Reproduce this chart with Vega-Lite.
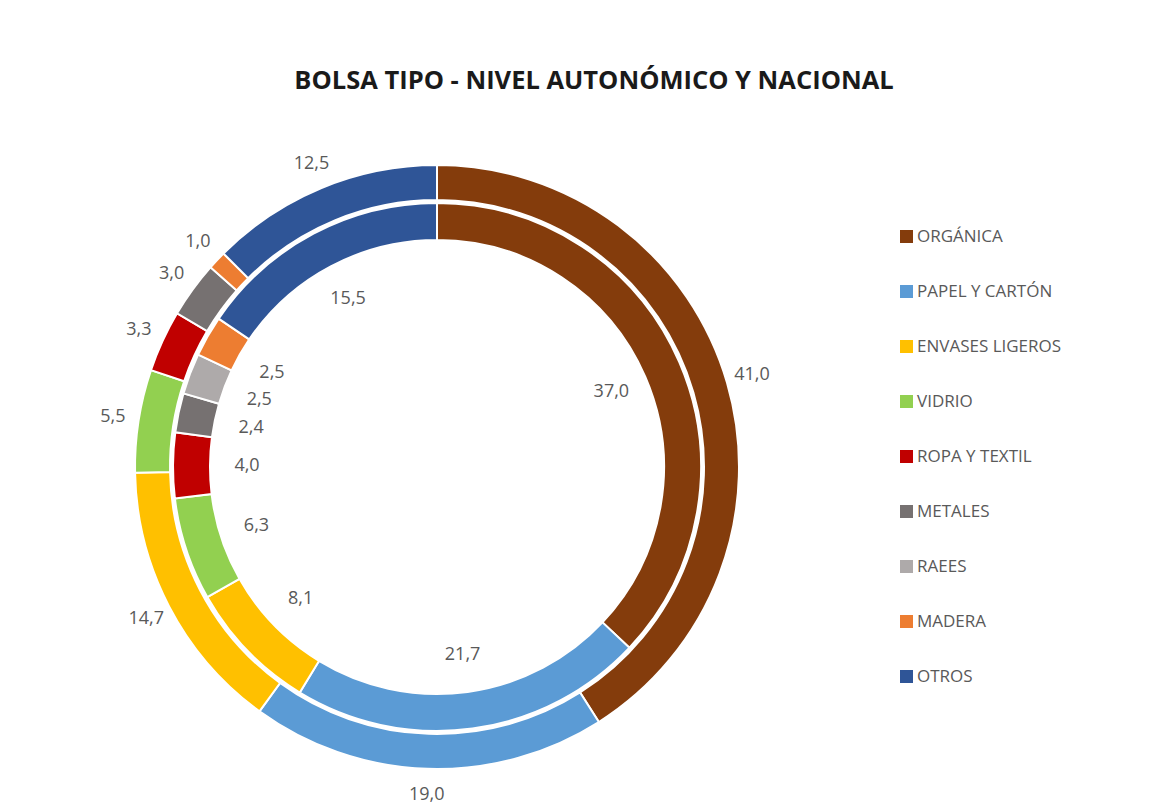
{
  "$schema": "https://vega.github.io/schema/vega-lite/v6.json",
  "autosize": {"type": "none"},
  "width": 604,
  "height": 604,
  "padding": {"left": 135, "top": 165, "right": 415, "bottom": 39},
  "background": "white",
  "config": {
    "view": {"stroke": null},
    "locale": {"number": {"decimal": ",", "thousands": ".", "grouping": [3], "currency": ["", " €"]}}
  },
  "title": {
    "text": "BOLSA TIPO - NIVEL AUTONÓMICO Y NACIONAL",
    "font": "Open Sans",
    "fontSize": 25.5,
    "fontWeight": "bold",
    "color": "#1a1a1a",
    "anchor": "middle",
    "dx": 157,
    "offset": 60
  },
  "datasets": {
    "exterior": [
      {"categoria": "ORGÁNICA", "orden": 1, "valor": 41.0},
      {"categoria": "PAPEL Y CARTÓN", "orden": 2, "valor": 19.0},
      {"categoria": "ENVASES LIGEROS", "orden": 3, "valor": 14.7},
      {"categoria": "VIDRIO", "orden": 4, "valor": 5.5},
      {"categoria": "ROPA Y TEXTIL", "orden": 5, "valor": 3.3},
      {"categoria": "METALES", "orden": 6, "valor": 3.0},
      {"categoria": "MADERA", "orden": 8, "valor": 1.0},
      {"categoria": "OTROS", "orden": 9, "valor": 12.5}
    ],
    "interior": [
      {"categoria": "ORGÁNICA", "orden": 1, "valor": 37.0},
      {"categoria": "PAPEL Y CARTÓN", "orden": 2, "valor": 21.7},
      {"categoria": "ENVASES LIGEROS", "orden": 3, "valor": 8.1},
      {"categoria": "VIDRIO", "orden": 4, "valor": 6.3},
      {"categoria": "ROPA Y TEXTIL", "orden": 5, "valor": 4.0},
      {"categoria": "METALES", "orden": 6, "valor": 2.4},
      {"categoria": "RAEES", "orden": 7, "valor": 2.5},
      {"categoria": "MADERA", "orden": 8, "valor": 2.5},
      {"categoria": "OTROS", "orden": 9, "valor": 15.5}
    ]
  },
  "encoding": {
    "theta": {"field": "valor", "type": "quantitative", "stack": true},
    "order": {"field": "orden", "type": "quantitative"},
    "color": {
      "field": "categoria",
      "type": "nominal",
      "scale": {
        "domain": ["ORGÁNICA", "PAPEL Y CARTÓN", "ENVASES LIGEROS", "VIDRIO", "ROPA Y TEXTIL", "METALES", "RAEES", "MADERA", "OTROS"],
        "range": ["#843c0c", "#5b9bd5", "#ffc000", "#92d050", "#c00000", "#767171", "#aeaaaa", "#ed7d31", "#2f5597"]
      },
      "legend": {
        "title": null,
        "orient": "none",
        "legendX": 763,
        "legendY": 63,
        "padding": 0,
        "symbolType": "square",
        "symbolSize": 169,
        "symbolStrokeWidth": 0,
        "labelFont": "Open Sans",
        "labelFontSize": 17,
        "labelColor": "#595959",
        "labelOffset": 2,
        "rowPadding": 37
      }
    }
  },
  "layer": [
    {
      "data": {"name": "exterior"},
      "mark": {"type": "arc", "radius": 302, "radius2": 267, "stroke": "white", "strokeWidth": 2}
    },
    {
      "data": {"name": "interior"},
      "mark": {"type": "arc", "radius": 264, "radius2": 227, "stroke": "white", "strokeWidth": 2}
    },
    {
      "data": {"name": "exterior"},
      "mark": {"type": "text", "radius": 328, "font": "Open Sans", "fontSize": 18, "fill": "#595959"},
      "encoding": {
        "text": {"field": "valor", "type": "quantitative", "format": ".1f"},
        "color": {"value": "#595959"}
      }
    },
    {
      "data": {"name": "interior"},
      "mark": {"type": "text", "radius": 190, "font": "Open Sans", "fontSize": 18, "fill": "#595959"},
      "encoding": {
        "text": {"field": "valor", "type": "quantitative", "format": ".1f"},
        "color": {"value": "#595959"}
      }
    }
  ]
}
